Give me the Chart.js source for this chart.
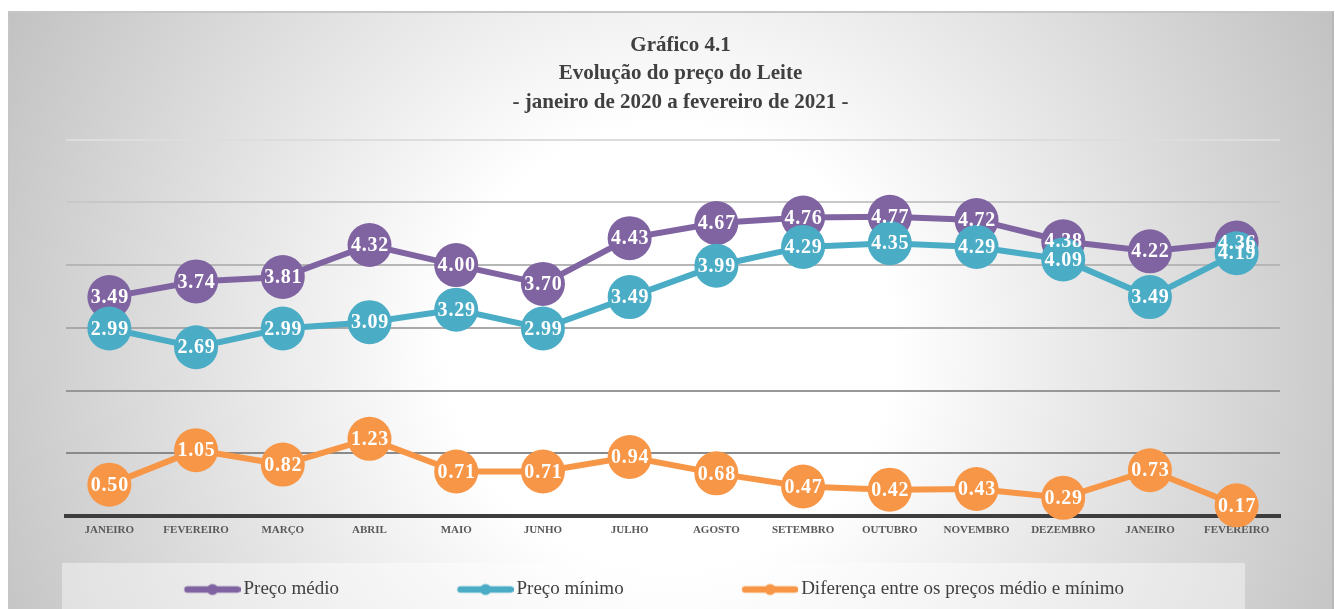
<!DOCTYPE html>
<html><head><meta charset="utf-8">
<script src="https://cdn.jsdelivr.net/npm/chart.js@4.4.1/dist/chart.umd.min.js"></script>
<style>
html,body{margin:0;padding:0;background:#fff;width:1335px;height:609px;overflow:hidden}
#card{position:absolute;left:8px;top:11px;width:1323px;height:620px;border-top:2px solid #c6c6c6;border-left:1px solid #c6c6c6;border-right:2px solid #b8b8b8;
background:radial-gradient(circle farthest-corner at 50% 54%, #ffffff 0%, #ffffff 30%, #c2c2c2 100%)}
#wrap{position:absolute;left:8px;top:11px;width:1325px;height:598px}
</style></head><body>
<div id="card"></div>
<div id="wrap"><canvas id="c"></canvas></div>
<script>
const categorias = ['JANEIRO','FEVEREIRO','MARÇO','ABRIL','MAIO','JUNHO','JULHO','AGOSTO','SETEMBRO','OUTUBRO','NOVEMBRO','DEZEMBRO','JANEIRO','FEVEREIRO'];
const precoMedio  = [3.49, 3.74, 3.81, 4.32, 4.00, 3.70, 4.43, 4.67, 4.76, 4.77, 4.72, 4.38, 4.22, 4.36];
const precoMinimo = [2.99, 2.69, 2.99, 3.09, 3.29, 2.99, 3.49, 3.99, 4.29, 4.35, 4.29, 4.09, 3.49, 4.19];
const diferenca   = [0.50, 1.05, 0.82, 1.23, 0.71, 0.71, 0.94, 0.68, 0.47, 0.42, 0.43, 0.29, 0.73, 0.17];
const nomesSeries = ['Preço médio','Preço mínimo','Diferença entre os preços médio e mínimo'];
const tituloLinhas = ['Gráfico 4.1','Evolução do preço do Leite','- janeiro de 2020 a fevereiro de 2021 -'];
const yMin = 0, yMax = 6, yStep = 1;

const cores = ['#8064A2','#4BACC6','#F79646'];
const gridCores = {0:'#7f7f7f',1:'#8a8a8a',2:'#979797',3:'#a9a9a9',4:'#b6b6b6',5:'#c8c8c8',6:'#dddddd'};
const SERIF = '"Liberation Serif", "DejaVu Serif", serif';

function makeSymbol(color){
  const W = 171, H = 16;
  const c = document.createElement('canvas'); c.width = W; c.height = H;
  const g = c.getContext('2d');
  g.strokeStyle = color; g.lineWidth = 6.5; g.lineCap = 'round';
  g.beginPath(); g.moveTo(W-56+3, H/2); g.lineTo(W-3, H/2); g.stroke();
  g.fillStyle = color; g.beginPath(); g.arc(W-28, H/2, 5.5, 0, Math.PI*2); g.fill();
  return c;
}
const simbolos = cores.map(makeSymbol);

const labelPlugin = {
  id: 'pointLabels',
  afterDatasetsDraw(chart){
    const ctx = chart.ctx;
    ctx.save();
    ctx.font = 'bold 20px ' + SERIF;
    try { ctx.letterSpacing = '0.8px'; } catch(e) {}
    ctx.fillStyle = '#ffffff';
    ctx.textAlign = 'center'; ctx.textBaseline = 'middle';
    chart.data.datasets.forEach((ds, i) => {
      chart.getDatasetMeta(i).data.forEach((pt, j) => {
        ctx.fillText(ds.data[j].toFixed(2), pt.x + 0.5, pt.y + 1);
      });
    });
    ctx.restore();
  }
};
const legendBg = {
  id: 'legendBg',
  beforeDraw(chart){
    const l = chart.legend; const ctx = chart.ctx;
    ctx.save();
    ctx.fillStyle = 'rgba(255,255,255,0.42)';
    ctx.fillRect(54, l.top - 7, 1183, chart.height - l.top + 7);
    ctx.restore();
  }
};

const mk = (label, data, color, order) => ({
  label, data, borderColor: color, backgroundColor: color,
  pointBackgroundColor: color, pointBorderColor: color, pointBorderWidth: 0,
  pointRadius: 22, pointHoverRadius: 22, borderWidth: 6, tension: 0, order, clip: false
});

new Chart(document.getElementById('c'), {
  type: 'line',
  data: {
    labels: categorias,
    datasets: [
      mk(nomesSeries[0], precoMedio, cores[0], 3),
      mk(nomesSeries[1], precoMinimo, cores[1], 2),
      mk(nomesSeries[2], diferenca, cores[2], 1)
    ]
  },
  options: {
    responsive: true, maintainAspectRatio: false, animation: false, events: [],
    layout: { padding: { left: 58, right: 38, top: 0, bottom: 0 } },
    plugins: {
      tooltip: { enabled: false },
      title: {
        display: true, text: tituloLinhas, color: '#404040',
        font: { family: SERIF, size: 21, weight: 'bold', lineHeight: 1.36 },
        padding: { top: 20, bottom: 23 }
      },
      legend: {
        position: 'bottom', align: 'start',
        labels: {
          usePointStyle: true, pointStyleWidth: 158, padding: 10,
          color: '#404040', font: { family: SERIF, size: 19 },
          generateLabels: (chart) => chart.data.datasets.map((ds, i) => ({
            text: ds.label, pointStyle: simbolos[i], fillStyle: ds.borderColor,
            strokeStyle: ds.borderColor, lineWidth: 0, hidden: false, datasetIndex: i, fontColor: '#404040'
          }))
        }
      }
    },
    scales: {
      x: {
        offset: true,
        grid: { display: false, drawTicks: false },
        border: { display: true, color: '#3d3d3d', width: 4 },
        ticks: { color: '#595959', font: { family: SERIF, size: 11, weight: 'bold' }, padding: 8, maxRotation: 0, autoSkip: false },
        afterFit(s){ s.height = 54; }
      },
      y: {
        position: 'right', min: yMin, max: yMax,
        ticks: { display: false, stepSize: yStep },
        border: { display: false },
        grid: { drawTicks: false, lineWidth: 2, color: (c) => gridCores[c.tick ? c.tick.value : 0] || '#aaaaaa' },
        afterFit(s){ s.width = 15; }
      }
    }
  },
  plugins: [legendBg, labelPlugin]
});
</script>
</body></html>
